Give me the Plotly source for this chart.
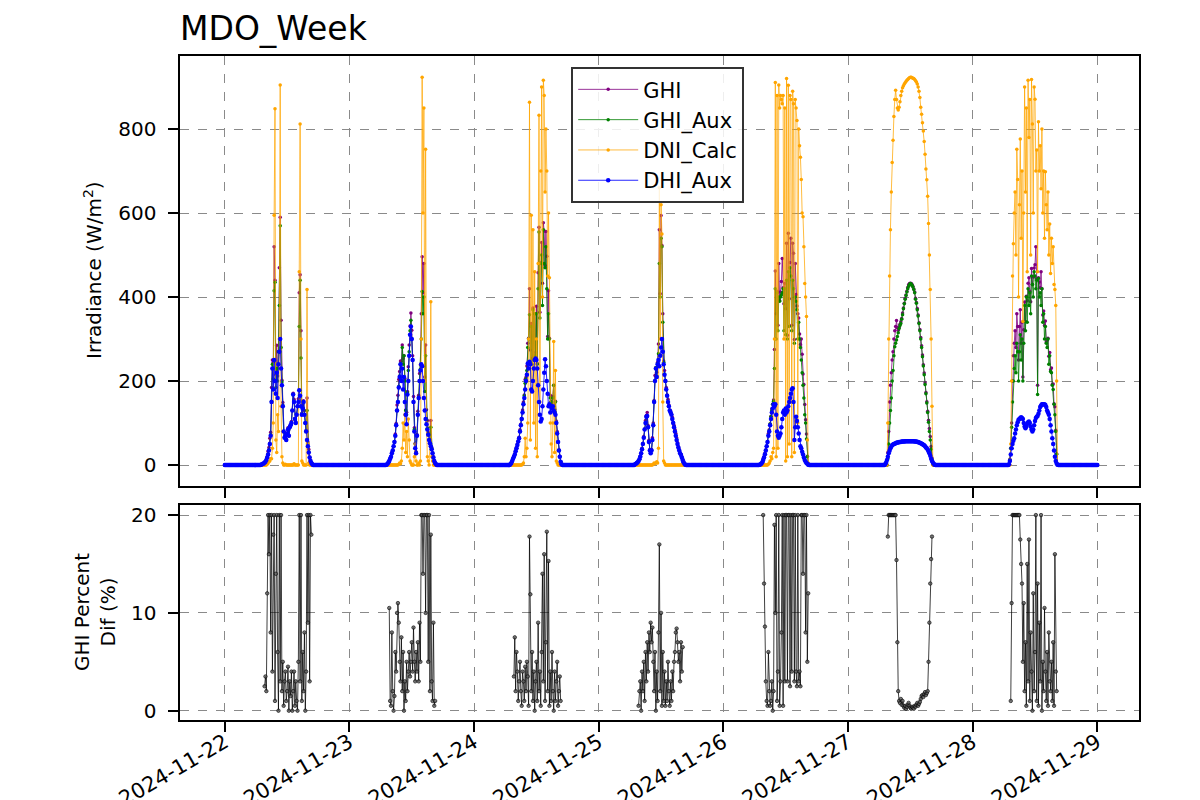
import pandas as pd
import plotly.graph_objects as go

# ---------------- data ----------------
DAYS = ["2024-11-22", "2024-11-23", "2024-11-24", "2024-11-25",
        "2024-11-26", "2024-11-27", "2024-11-28"]
END_DAY = "2024-11-29"
TICK_DATES = DAYS + [END_DAY]
DAY_START = "07:00"      # first daytime sample of each list
SAMPLE_MIN = 10          # sampling step of the daytime lists (07:00 .. 17:00)

# ---- 2024-11-22 ----
GHI_1 = [1,2,3,4,6,8, 12,20,33,42,64,78, 185,250,245,520,440,215, 285,212,270,470,590,345,
         202,149,80,67,74,61, 76,89,70,93,96,104, 130,171,157,111,103,121, 140,158,410,453,320,123,
         144,153,130,100,83,160, 55,38,19,12,6,2,0]
GHI_AUX_1 = [1,2,3,4,6,8, 12,18,26,36,51,72, 152,240,205,415,435,185, 230,200,270,380,570,280,
             198,142,80,65,71,60, 75,85,70,90,95,100, 130,168,151,110,100,120, 140,150,330,440,255,122,
             136,150,120,100,80,130, 50,31,18,10,5,2,0]
DNI_1 = [0,0,0,0,0,0, 0,2,5,8,10,15, 15,40,100,595,848,60, 30,120,80,300,905,140,
         20,5,0,0,2,0, 0,0,0,0,0,0, 0,0,3,0,0,0, 0,0,460,812,300,10,
         5,0,0,0,0,418, 50,5,0,0,0,0,0]
DHI_1 = [1,2,3,4,6,8, 12,18,25,35,50,70, 150,230,180,250,200,170, 220,160,240,270,300,230,
         190,140,80,65,70,60, 75,85,70,90,95,100, 130,168,150,110,100,120, 140,150,178,165,140,120,
         135,150,120,100,80,60, 45,30,18,10,5,2,0]
PCT_1 = [None,None,None,None,2.5,3.5, 2,12,20,16,20,8, 20,4,18,20,1,14, 20,6,0,20,3,20,
         2,5,0.5,3,4,1, 2,4.5,0,3,1.5,4, 0,2,4,0.5,3,1, 0,5,20,3,20,1,
         6,2,8,0,4,20, 9,20,3,20,18,None,None]

# ---- 2024-11-23 ----
GHI_2 = [0,1,3,6,11,15, 20,30,36,45,56,74, 99,143,166,204,223,248, 247,286,254,260,206,131,
         126,175,234,286,331,362, 321,260,163,89,52,32, 73,128,166,218,239,360, 496,410,480,210,286,132,
         106,78,72,56,106,41, 29,20,10,5,2,0,0]
GHI_AUX_2 = [0,1,3,6,10,15, 20,28,35,45,55,70, 95,130,150,187,212,241, 230,280,240,260,200,130,
             120,172,225,270,320,345, 300,250,150,85,50,30, 70,120,161,200,228,300, 413,360,400,175,260,110,
             88,74,60,55,90,40, 29,18,10,5,2,0,0]
DNI_2 = [0,0,0,0,0,0, 0,0,0,0,0,0, 0,0,0,2,5,3, 10,40,100,60,120,30,
         80,20,110,60,10,5, 0,0,0,20,50,10, 0,0,5,0,10,300, 923,600,850,200,752,100,
         20,10,0,50,389,20, 10,0,0,0,0,0,0]
DHI_2 = [0,1,3,6,10,15, 20,28,35,45,55,70, 95,130,150,185,210,240, 200,230,180,210,150,120,
         97,168,200,260,310,330, 300,250,150,80,40,28, 70,120,160,200,225,240, 235,200,160,130,110,97,
         85,72,60,52,45,38, 28,18,10,5,2,0,0]
PCT_2 = [None,None,None,None,10.5,1, 0.5,8,2,0,1.5,6, 4,10,11,9,5,3, 7.5,2,6,0,3,1,
         5,2,4,6,3.5,5, 7,4,8.5,5,3,6, 4,7,3,9,5,20, 20,14,20,20,10,20,
         20,5,20,2,18,3, 1,9,0.5,1,None,None,None]

# ---- 2024-11-24 ----
GHI_3 = [2,5,10,15,21,27, 34,42,50,57,66,84, 97,111,131,150,167,204, 209,236,290,302,420,274,
         337,254,374,260,360,268, 378,242,458,566,364,482, 530,433,577,557,475,556, 497,306,415,302,166,152,
         148,163,190,133,152,105, 80,55,36,21,8,2,0]
GHI_AUX_3 = [2,5,10,15,20,25, 33,40,48,56,64,80, 95,110,126,146,165,195, 205,225,280,300,358,245,
             330,240,370,250,360,260, 360,240,420,555,350,480, 500,380,560,480,470,520, 420,300,360,300,160,150,
             140,160,190,128,150,102, 76,55,35,20,8,2,0]
DNI_3 = [0,0,0,0,0,0, 0,0,0,0,0,0, 0,0,2,5,20,64, 20,40,100,300,864,60,
         595,200,560,100,460,40, 300,20,480,833,150,700, 900,400,916,880,650,800, 700,450,600,446,100,50,
         20,100,294,30,225,10, 5,0,0,0,0,0,0]
DHI_3 = [2,5,10,15,20,25, 33,40,48,56,64,80, 95,110,125,145,160,180, 200,215,242,230,246,240,
         180,175,200,230,250,254, 250,230,190,150,120,104, 110,140,180,220,252,235, 200,170,140,145,125,140,
         135,140,130,125,120,100, 75,55,35,20,8,2,0]
PCT_3 = [None,None,None,None,3.5,7.5, 2,6,4,1,3,5, 2,0.5,4,3,1,4.5, 2,5,3.5,0.5,17.8,11.9,
         2,6,1,4,0,3, 5,1,9,2,4,0.5, 6,14,3,16,1,7, 18.3,2,15.3,0.5,4,1,
         6,2,0,4,1,3, 5,0.5,2,3.5,1,None,None]

# ---- 2024-11-25 ----
GHI_4 = [2,3,5,7,10,14, 21,28,40,51,68,86, 106,118,125,94,59,37, 31,37,65,100,154,213,
         232,221,245,288,560,408, 594,523,360,248,225,201, 185,167,157,143,131,129, 121,114,102,95,85,76,
         65,54,44,37,29,26, 19,13,7,3,1,0,0]
GHI_AUX_4 = [2,3,5,7,10,14, 20,28,38,50,65,85, 100,115,117,90,55,35, 28,35,60,95,151,201,
             232,212,242,265,480,400, 540,520,340,245,217,200, 180,165,150,140,130,125, 120,110,100,90,80,70,
             60,50,42,35,28,24, 18,12,7,3,1,0,0]
DNI_4 = [0,0,0,0,0,0, 0,0,0,0,0,0, 0,0,0,0,0,0, 0,0,0,2,5,3,
         5,8,5,40,660,300, 620,550,150,10,5,0, 0,0,0,0,0,0, 0,0,0,0,0,0,
         0,0,0,0,0,0, 0,0,0,0,0,0,0]
DHI_4 = [2,3,5,7,10,14, 20,28,38,50,65,85, 100,115,117,90,55,35, 28,35,60,95,150,200,
         230,210,240,250,235,260, 280,300,270,240,215,200, 180,165,150,140,130,125, 120,110,100,90,80,70,
         60,50,42,35,28,24, 18,12,7,3,1,0,0]
PCT_4 = [None,None,None,None,0.5,2, 3,0,4,2,5,1, 6,3,7,4,8,6, 9,7,8.5,5,2,6,
         0,4,1,8,17,2, 10,0.5,6,1,4,0.5, 3,1,5,2,0.5,3, 1,4,2,5,6,8,
         8.4,7,5,6,3,7, 4,6.5,None,None,None,None,None]

# ---- 2024-11-26 ----
GHI_5 = [1,2,4,7,15,20, 28,36,45,55,75,84, 98,116,134,145,155,275, 462,360,414,333,480,392,
         412,437,492,422,384,433, 372,528,309,552,396,482, 540,333,528,504,299,480, 406,379,360,350,312,287,
         300,264,217,192,144,108, 74,21,3,0,0,0,0]
GHI_AUX_5 = [1,2,4,7,12,18, 26,35,45,55,71,82, 98,115,130,145,152,230, 420,300,410,320,400,390,
             400,405,410,420,320,420, 310,440,300,460,330,470, 450,320,440,420,290,400, 390,370,300,340,300,280,
             250,220,190,160,120,100, 62,20,3,0,0,0,0]
DNI_5 = [0,0,0,0,0,0, 0,0,0,0,2,5, 10,20,15,30,40,300, 911,20,880,40,905,850,
         880,870,860,880,300,850, 10,920,20,904,50,880, 870,20,890,860,30,870, 850,820,100,800,760,733,
         680,600,591,520,432,400, 354,60,5,0,0,0,0]
DHI_5 = [1,2,4,7,12,18, 26,35,45,55,70,80, 95,110,125,135,145,140, 145,120,80,70,65,70,
         75,90,110,125,130,120, 135,125,130,140,150,160, 170,180,183,150,60,90, 115,105,90,75,60,45,
         40,32,25,18,12,8, 5,3,1,0,0,0,0]
PCT_5 = [None,None,None,None,20,13, 8.6,3,1,0.5,6,2, 0.5,1,3,0,2,19, 10,20,1,4,20,0.5,
         3,8,20,0.5,20,3, 20,20,3,20,20,2.5, 20,4,20,20,3,20, 4,2.5,20,3,4,2.5,
         20,20,14,20,20,8, 20,5,12,None,None,None,None]

# ---- 2024-11-27 ----
GHI_6 = [0,0,0,0,30,80, 150,190,220,250,270,300, 320,330,344,327,321,328, 335,341,349,362,374,385,
         397,405,414,423,429,432, 433,432,430,425,419,412, 397,387,373,357,339,323, 304,284,262,239,219,196,
         173,151,128,107,87,68, 44,17,2,0,0,0,0]
GHI_AUX_6 = [0,0,0,0,15,50, 100,130,160,200,225,260, 282,290,298,306,315,325, 332,337,347,358,372,384,
             395,404,412,420,426,430, 432,431,428,424,418,410, 395,385,370,355,337,320, 300,280,258,236,215,192,
             170,148,125,102,80,60, 38,14,2,0,0,0,0]
DNI_6 = [0,0,0,0,100,300, 450,560,650,720,773,830, 870,892,870,850,845,852, 865,880,890,898,903,907,
         910,913,916,918,920,922, 923,923,922,921,920,918, 915,912,907,900,890,875, 852,835,815,795,770,740,
         705,679,640,575,500,418, 300,140,0,0,0,0,0]
DHI_6 = [0,2,6,12,20,28, 34,40,44,47,49,50, 51,52,53,54,54,55, 55,55,56,56,56,56,
         57,57,57,57,57,57, 57,57,57,57,57,56, 56,56,55,55,54,53, 52,51,50,48,47,45,
         42,40,37,33,28,22, 15,10,6,3,1,0,0]
PCT_6 = [None,None,None,None,17.8,20, 20,20,20,20,20,20, 20,20,15.4,7,2,1, 0.8,1.2,0.6,1,0.5,0.3,
         0.5,0.2,0.4,0.6,0.8,0.5, 0.3,0.2,0.4,0.3,0.2,0.5, 0.4,0.6,0.8,0.5,0.7,0.9, 1.2,1.5,1.6,1.4,1.7,1.9,
         1.6,1.8,2,5,9,13, 15.5,17.8,None,None,None,None,None]

# ---- 2024-11-28 ----
GHI_7 = [2,14,40,100,200,260, 290,320,280,360,330,250, 330,370,290,340,210,322, 388,342,402,391,433,446,
         414,389,468,430,448,469, 477,520,444,190,446,436, 422,460,420,357,367,332, 343,293,297,302,259,268,
         227,231,192,193,146,139, 83,27,2,0,0,0,0]
GHI_AUX_7 = [2,12,40,90,150,200, 230,260,220,290,270,200, 270,310,250,300,200,290, 380,320,400,340,420,380,
             410,360,450,430,400,460, 450,420,440,168,444,400, 410,380,420,340,360,300, 330,290,280,300,240,260,
             223,220,190,180,145,120, 80,26,2,0,0,0,0]
DNI_7 = [0,0,50,200,450,527, 600,650,500,752,680,400, 620,776,540,700,342,600, 900,650,850,460,916,780,
         870,500,918,812,600,900, 871,700,750,460,817,700, 760,658,800,600,700,540, 698,620,560,650,500,574,
         456,540,480,520,430,418, 380,200,0,0,0,0,0]
DHI_7 = [2,10,25,40,50,58, 64,75,85,95,102,108, 110,112,114,112,110,100, 92,88,92,98,102,104,
         100,92,85,80,85,95, 105,112,115,117,122,130, 138,142,145,145,144,145, 143,138,130,125,120,110,
         95,80,64,50,35,20, 10,4,1,0,0,0,0]
PCT_7 = [None,None,1,11,20,20, 20,20,20,20,20,20, 20,17.5,15,13,5,11, 2,7,0.5,15,3,17.5,
         1,8,4,0,12,2, 6,20,1,13,0.5,9, 3,20,0,5,2,10.5, 4,1,6,0.5,8,3,
         2,5,1,7,0.5,16, 4,2,None,None,None,None,None]

GHI_DAYS = [GHI_1, GHI_2, GHI_3, GHI_4, GHI_5, GHI_6, GHI_7]
GHI_AUX_DAYS = [GHI_AUX_1, GHI_AUX_2, GHI_AUX_3, GHI_AUX_4, GHI_AUX_5, GHI_AUX_6, GHI_AUX_7]
DNI_DAYS = [DNI_1, DNI_2, DNI_3, DNI_4, DNI_5, DNI_6, DNI_7]
DHI_DAYS = [DHI_1, DHI_2, DHI_3, DHI_4, DHI_5, DHI_6, DHI_7]
PCT_DAYS = [PCT_1, PCT_2, PCT_3, PCT_4, PCT_5, PCT_6, PCT_7]


def assemble(day_lists, night_value):
    """Place each day's daytime list on a 10-min grid; night samples get night_value."""
    times, vals = [], []
    step = pd.Timedelta(minutes=SAMPLE_MIN)
    for day, seg in zip(DAYS, day_lists):
        start = pd.Timestamp(f"{day} {DAY_START}")
        for t in pd.date_range(day, periods=24 * 60 // SAMPLE_MIN, freq=f"{SAMPLE_MIN}min"):
            k = int((t - start) / step)
            times.append(t)
            vals.append(seg[k] if 0 <= k < len(seg) else night_value)
    times.append(pd.Timestamp(END_DAY))
    vals.append(night_value)
    return times, vals


FONT = "DejaVu Sans"
fig = go.Figure()

series = [
    ("GHI", GHI_DAYS, "rgb(128,0,128)", "rgba(128,0,128,0.8)", 3.5),
    ("GHI_Aux", GHI_AUX_DAYS, "rgb(0,128,0)", "rgba(0,128,0,0.8)", 3.5),
    ("DNI_Calc", DNI_DAYS, "rgb(255,165,0)", "rgba(255,165,0,0.75)", 3.5),
    ("DHI_Aux", DHI_DAYS, "rgb(0,0,255)", "rgba(0,0,255,0.85)", 4.5),
]
for name, lists, mcol, lcol, msize in series:
    t, v = assemble(lists, 0)
    fig.add_trace(go.Scatter(
        x=t, y=v, name=name, mode="lines+markers",
        line=dict(color=lcol, width=1),
        marker=dict(color=mcol, size=msize),
        xaxis="x", yaxis="y",
    ))

tp, vp = assemble(PCT_DAYS, None)
fig.add_trace(go.Scatter(
    x=tp, y=vp, name="pct", mode="lines+markers", showlegend=False,
    line=dict(color="rgba(0,0,0,0.75)", width=1),
    marker=dict(color="rgba(90,90,90,0.8)", size=3.5, line=dict(color="black", width=0.6)),
    connectgaps=False, xaxis="x2", yaxis="y2",
))

x_range = ["2024-11-21 15:28", "2024-11-29 08:02"]
axis_common = dict(
    showline=True, linecolor="black", linewidth=2, mirror=True,
    ticks="outside", ticklen=10, tickwidth=2, tickcolor="black",
    showgrid=True, gridcolor="#8a8a8a", gridwidth=1, griddash="dash",
    zeroline=False, automargin=False,
)
ytick_font = dict(family=FONT, size=20, color="black")
xtick_font = dict(family=FONT, size=21, color="black")

fig.update_layout(
    width=1200, height=800,
    paper_bgcolor="white", plot_bgcolor="white",
    margin=dict(l=0, r=0, t=0, b=0),
    font=dict(family=FONT, color="black"),
    title=dict(text="MDO_Week", x=0.15, xanchor="left", y=0.965, yanchor="middle",
               font=dict(family=FONT, size=33, color="black")),
    xaxis=dict(domain=[0.1504, 0.9492], anchor="y", type="date", range=x_range,
               tickvals=TICK_DATES, showticklabels=False, **axis_common),
    xaxis2=dict(domain=[0.1504, 0.9492], anchor="y2", type="date", range=x_range, matches="x",
                tickvals=TICK_DATES, ticktext=TICK_DATES, tickangle=-30, tickfont=xtick_font,
                ticklabelstandoff=-10, **axis_common),
    yaxis=dict(domain=[0.393, 0.93], anchor="x", range=[-48.8, 973.8],
               tickvals=[0, 200, 400, 600, 800], tickfont=ytick_font, ticklabelstandoff=8,
               **axis_common),
    yaxis2=dict(domain=[0.1, 0.36875], anchor="x2", range=[-0.95, 21.03],
                tickvals=[0, 10, 20], tickfont=ytick_font, ticklabelstandoff=8, **axis_common),
    legend=dict(x=0.476, y=0.916, xanchor="left", yanchor="top",
                bgcolor="rgba(255,255,255,0.85)", bordercolor="#333333", borderwidth=2,
                font=dict(family=FONT, size=21, color="black"), itemwidth=60),
    annotations=[
        dict(text="Irradiance (W/m<sup>2</sup>)", textangle=-90, x=93 / 1200, y=1 - 270 / 800,
             xref="paper", yref="paper", showarrow=False, xanchor="center", yanchor="middle",
             font=dict(family=FONT, size=20, color="black")),
        dict(text="GHI Percent<br>Dif (%)", textangle=-90, x=95 / 1200, y=1 - 612 / 800,
             xref="paper", yref="paper", showarrow=False, xanchor="center", yanchor="middle",
             font=dict(family=FONT, size=20, color="black")),
    ],
)

fig.write_html("out.html", config={"displayModeBar": False},
               post_script="document.body.style.margin='0';")
